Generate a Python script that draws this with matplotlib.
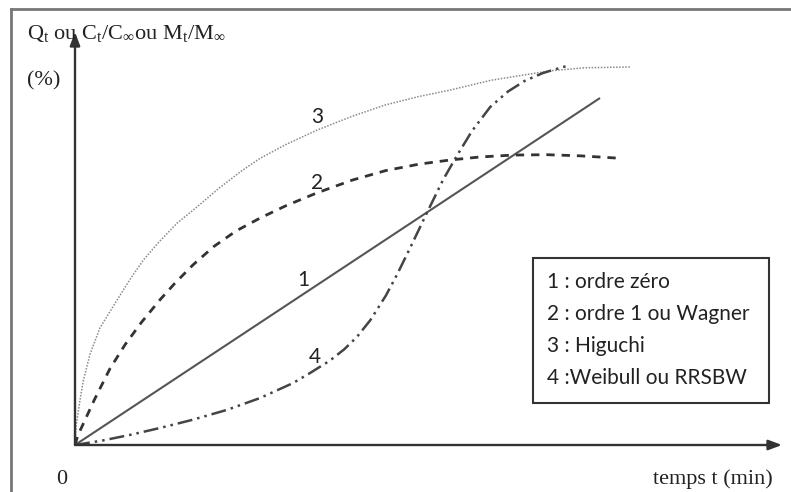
import matplotlib
matplotlib.use("Agg")
import matplotlib.pyplot as plt
from matplotlib.lines import Line2D

# ---- data (t in arbitrary time units, y in %) ----
t1 = [0.0, 94.6]
y1 = [0.0, 91.8]

t2 = [0.0, 0.5, 1.8, 3.5, 6.3, 9.0, 12.0, 15.3, 18.0, 21.3, 25.0, 29.0, 33.3,
      38.0, 43.6, 50.0, 56.0, 62.0, 67.6, 73.0, 78.9, 85.0, 91.0, 97.7]
y2 = [0.0, 2.5, 6.6, 12.0, 20.2, 26.5, 32.5, 38.4, 42.8, 47.7, 52.5, 56.6, 60.0,
      63.3, 66.7, 70.1, 72.6, 74.3, 75.4, 76.2, 76.7, 76.8, 76.5, 75.9]

t3 = [0.0, 0.2, 0.9, 1.5, 2.7, 4.5, 7.6, 10.0, 12.3, 15.0, 18.4, 22.0, 26.0,
      30.0, 33.3, 38.0, 43.6, 50.0, 56.0, 62.0, 67.6, 75.0, 85.6, 92.0, 100.0]
y3 = [0.0, 5.0, 11.9, 17.0, 24.0, 31.0, 38.4, 44.0, 48.9, 53.5, 58.7, 63.0, 68.0,
      72.5, 75.8, 79.5, 83.3, 87.0, 90.0, 92.2, 93.9, 96.5, 99.0, 99.8, 100.0]

t4 = [0.0, 5.0, 10.0, 15.3, 21.0, 27.4, 33.3, 39.3, 42.3, 45.9, 48.5, 50.8, 53.2,
      56.0, 58.0, 60.5, 63.4, 66.3, 68.8, 71.5, 74.8, 78.0, 81.0, 84.3, 87.0, 89.2]
y4 = [0.0, 1.2, 2.7, 4.5, 6.6, 9.3, 12.4, 16.4, 19.0, 22.3, 25.3, 28.6, 33.0,
      39.5, 45.0, 52.5, 61.4, 70.1, 76.5, 83.0, 89.4, 93.5, 96.3, 98.4, 99.6, 100.5]

curve_labels = ["1", "2", "3", "4"]
label_t = [41.1, 43.6, 43.6, 43.2]
label_y = [43.7, 69.3, 86.8, 23.3]

legend_entries = ["1 : ordre zéro", "2 : ordre 1 ou Wagner", "3 : Higuchi", "4 :Weibull ou RRSBW"]

y_title = r"Q$_\mathregular{t}$ ou C$_\mathregular{t}$/C$_\mathregular{\infty}$ou M$_\mathregular{t}$/M$_\mathregular{\infty}$"

W, H = 791, 492
fig = plt.figure(figsize=(W / 100, H / 100), dpi=100)

ox, oy = 75, 445
ax = fig.add_axes([ox / W, (H - oy) / H, (782 - ox) / W, (oy - 32) / H])
ax.set_xlim(0, (782 - ox) / 5.55)
ax.set_ylim(0, (oy - 32) / 3.78)
ax.axis("off")

ax.plot(t1, y1, color="#555555", lw=1.5, solid_capstyle="butt")
ax.plot(t2, y2, color="#333333", lw=2.0, ls=(0, (3, 2.5)))
ax.plot(t3, y3, color="#8a8a8a", lw=1.1, ls=(0, (1, 1)))
ax.plot(t4, y4, color="#444444", lw=1.8, ls=(0, (6, 2, 1, 2, 1, 2)))

for lab, tx, ty in zip(curve_labels, label_t, label_y):
    ax.text(tx, ty, lab, fontsize=15, family="Lato", color="#222222",
            ha="center", va="center")

# axes arrows
xmax = ax.get_xlim()[1]
ymax = ax.get_ylim()[1]
arrow_kw = dict(arrowstyle="-|>,head_length=0.8,head_width=0.3", color="#333333",
                lw=1.7, shrinkA=0, shrinkB=0)
ax.annotate("", xy=(xmax, 0), xytext=(0, 0), arrowprops=arrow_kw, annotation_clip=False)
ax.annotate("", xy=(0, ymax), xytext=(0, 0), arrowprops=arrow_kw, annotation_clip=False)

# texts in figure pixel coords
def fx(px):
    return px / W

def fy(py):
    return (H - py) / H

serif = "Liberation Serif"
fig.text(fx(27), fy(34), y_title, family=serif, fontsize=16, color="#222222",
         ha="left", va="center")
fig.text(fx(27), fy(81), "(%)", family=serif, fontsize=16, color="#222222",
         ha="left", va="center")
fig.text(fx(62), fy(479), "0", family=serif, fontsize=16, color="#222222",
         ha="center", va="center")
fig.text(fx(773), fy(479), "temps t (min)", family=serif, fontsize=16, color="#222222",
         ha="right", va="center")

# legend box
box = plt.Rectangle((fx(533), fy(403)), fx(769) - fx(533), fy(258) - fy(403),
                    transform=fig.transFigure, fill=False, edgecolor="#333333", lw=1.5)
fig.add_artist(box)
for i, entry in enumerate(legend_entries):
    fig.text(fx(547), fy(282 + 32 * i), entry, family="Lato", fontsize=15,
             color="#222222", ha="left", va="center")

# outer frame (top and left edges)
fig.add_artist(Line2D([fx(11), 1.0], [fy(9), fy(9)], transform=fig.transFigure,
                      color="#777777", lw=2))
fig.add_artist(Line2D([fx(11), fx(11)], [fy(9), 0.0], transform=fig.transFigure,
                      color="#777777", lw=2))

fig.savefig("out.png", dpi=100, facecolor="white")
